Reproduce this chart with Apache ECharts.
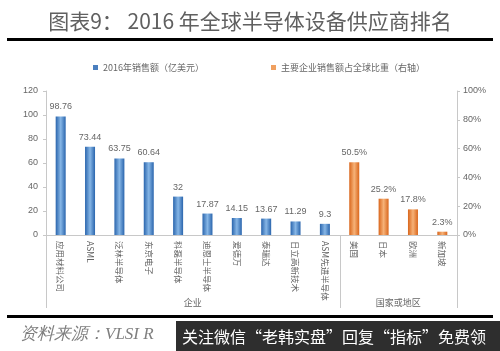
<!DOCTYPE html>
<html>
<head>
<meta charset="utf-8">
<script src="https://cdn.jsdelivr.net/npm/echarts@6/dist/echarts.min.js"></script>
<style>
html, body { margin: 0; padding: 0; background: #fff; }
#chart { width: 500px; height: 351px; }
</style>
</head>
<body>
<div id="chart"></div>
<script>
// ==========================================
// DATA
// ==========================================
const categories = ['应用材料公司', 'ASML', '泛林半导体', '东京电子', '科磊半导体', '迪恩士半导体', '爱德万', '泰瑞达', '日立高新技术', 'ASM先进半导体', '美国', '日本', '欧洲', '新加坡'];
const salesValues = [98.76, 73.44, 63.75, 60.64, 32, 17.87, 14.15, 13.67, 11.29, 9.3, '-', '-', '-', '-'];
const shareValues = ['-', '-', '-', '-', '-', '-', '-', '-', '-', '-', 50.5, 25.2, 17.8, 2.3];
const groupNames = ['企业', '国家或地区'];
const groupSizes = [10, 4];
const leftTicks = [0, 120, 20];   // min, max, interval
const rightTicks = [0, 100, 20];

const salesName = '2016年销售额（亿美元）';
const shareName = '主要企业销售额占全球比重（右轴）';

// ==========================================
// STYLES
// ==========================================
const textGray = '#666666';
const axisGray = '#c8c8c8';

function barGradient(edge, mid) {
  return new echarts.graphic.LinearGradient(0, 0, 1, 0, [
    { offset: 0, color: edge },
    { offset: 0.5, color: mid },
    { offset: 1, color: edge }
  ]);
}

const chart = echarts.init(document.getElementById('chart'));

const option = {
  backgroundColor: '#fff',
  animation: false,
  title: {
    text: '图表9： 2016 年全球半导体设备供应商排名',
    left: 'center',
    top: 6,
    textStyle: { color: '#606060', fontSize: 21, fontWeight: 'normal', fontFamily: 'Noto Sans CJK SC' }
  },
  legend: [
    {
      data: [{ name: salesName, icon: 'rect', itemStyle: { color: '#4a7fbf' } }],
      left: 88, top: 58,
      itemWidth: 5, itemHeight: 5, itemGap: 4,
      textStyle: { color: textGray, fontSize: 9, fontFamily: 'Noto Sans CJK SC' }
    },
    {
      data: [{ name: shareName, icon: 'rect', itemStyle: { color: '#f0a060' } }],
      left: 266, top: 58,
      itemWidth: 5, itemHeight: 5,
      textStyle: { color: textGray, fontSize: 9, fontFamily: 'Noto Sans CJK SC' }
    }
  ],
  grid: { left: 46, right: 43, top: 91, bottom: 116 },
  xAxis: {
    type: 'category',
    data: categories,
    axisLine: { lineStyle: { color: axisGray } },
    axisTick: { show: false },
    axisLabel: {
      rotate: -90, interval: 0, margin: 6,
      color: textGray, fontSize: 8.5, fontFamily: 'Noto Sans CJK SC'
    }
  },
  yAxis: [
    {
      type: 'value',
      min: leftTicks[0], max: leftTicks[1], interval: leftTicks[2],
      splitLine: { show: false },
      axisLine: { show: true, lineStyle: { color: axisGray } },
      axisTick: { show: true, length: 3, lineStyle: { color: axisGray } },
      axisLabel: { color: textGray, fontSize: 9, margin: 8 }
    },
    {
      type: 'value',
      min: rightTicks[0], max: rightTicks[1], interval: rightTicks[2],
      splitLine: { show: false },
      axisLine: { show: true, lineStyle: { color: axisGray } },
      axisTick: { show: true, length: 3, lineStyle: { color: axisGray } },
      axisLabel: { color: textGray, fontSize: 9, margin: 6, formatter: '{value}%' }
    }
  ],
  series: [
    {
      name: salesName,
      type: 'bar',
      data: salesValues,
      barWidth: 10,
      barGap: '-100%',
      itemStyle: { color: barGradient('#2a65ad', '#86b6e6') },
      label: { show: true, position: 'top', distance: 5, color: textGray, fontSize: 9 }
    },
    {
      name: shareName,
      type: 'bar',
      yAxisIndex: 1,
      data: shareValues,
      barWidth: 10,
      itemStyle: { color: barGradient('#d9661c', '#f6b278') },
      label: { show: true, position: 'top', distance: 5, color: textGray, fontSize: 9, formatter: '{c}%' }
    }
  ]
};

chart.setOption(option);

// ==========================================
// GROUP SEPARATORS, FRAME LINES, FOOTER
// ==========================================
const x0 = chart.convertToPixel({ xAxisIndex: 0 }, 0);
const x1 = chart.convertToPixel({ xAxisIndex: 0 }, 1);
const step = x1 - x0;
const baseY = chart.convertToPixel({ yAxisIndex: 0 }, 0);
const sepBottom = 308;

const graphics = [];
let start = 0;
const bounds = [x0 - step / 2];
groupSizes.forEach((size, i) => {
  const left = x0 + (start - 0.5) * step;
  const right = x0 + (start + size - 0.5) * step;
  bounds.push(right);
  graphics.push({
    type: 'text',
    x: (left + right) / 2, y: 303,
    style: { text: groupNames[i], fill: textGray, fontSize: 9, fontFamily: 'Noto Sans CJK SC', align: 'center', verticalAlign: 'middle' }
  });
  start += size;
});
bounds.forEach(bx => {
  graphics.push({
    type: 'line',
    shape: { x1: Math.round(bx) + 0.5, y1: baseY, x2: Math.round(bx) + 0.5, y2: sepBottom },
    style: { stroke: axisGray, lineWidth: 1 }
  });
});

// heading and footer rules
graphics.push({ type: 'rect', shape: { x: 7, y: 38, width: 486, height: 3 }, style: { fill: '#000' } });
graphics.push({ type: 'rect', shape: { x: 7, y: 315, width: 486, height: 3 }, style: { fill: '#000' } });

// source note
graphics.push({
  type: 'text', x: 20, y: 335,
  style: { text: '资料来源：VLSI R', fill: '#7f7f7f', fontSize: 17, fontStyle: 'italic', fontFamily: 'Liberation Serif', verticalAlign: 'middle' }
});

// watermark overlay
graphics.push({ type: 'rect', shape: { x: 176, y: 321, width: 324, height: 30 }, style: { fill: '#2e2e2e' } });
graphics.push({
  type: 'text', x: 182, y: 337,
  style: { text: '关注微信“老韩实盘”回复“指标”免费领', fill: '#fff', fontSize: 16, fontFamily: 'Noto Sans CJK SC', verticalAlign: 'middle' }
});

chart.setOption({ graphic: graphics });
</script>
</body>
</html>
